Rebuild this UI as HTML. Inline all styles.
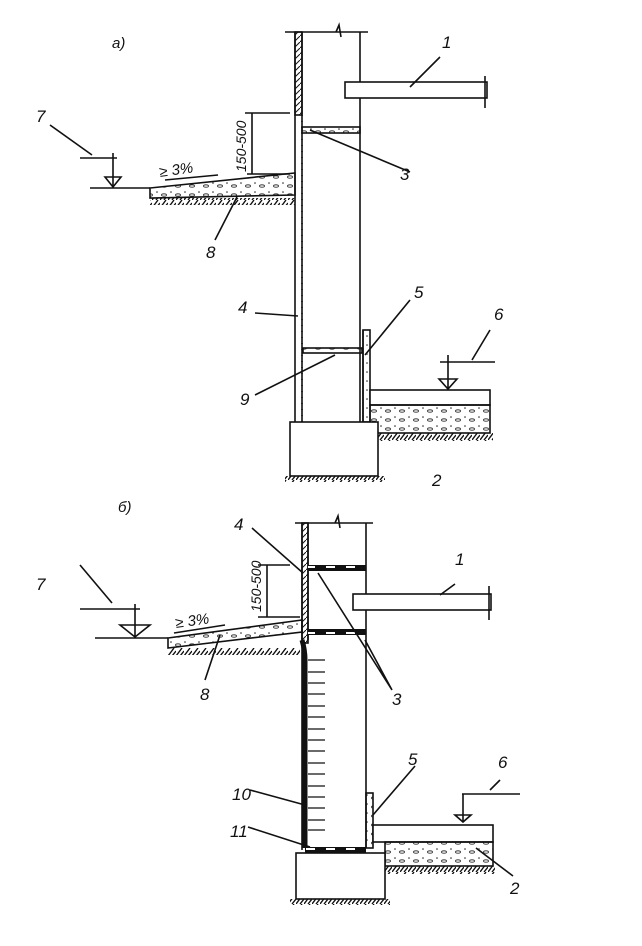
<!DOCTYPE html>
<html><head><meta charset="utf-8"><style>
html,body{margin:0;padding:0;background:#fff}
svg{display:block}
text{font-family:"Liberation Sans",sans-serif;font-style:italic;fill:#111}
</style></head><body>
<svg width="642" height="946" viewBox="0 0 642 946" xmlns="http://www.w3.org/2000/svg">
<defs>
<pattern id="gh" width="8" height="8" patternUnits="userSpaceOnUse"><path d="M0 8 L6 0 M4 8 L8 3" stroke="#111" stroke-width="1.4"/></pattern>
<pattern id="hh" width="6" height="6" patternUnits="userSpaceOnUse"><path d="M0 6 L6 0" stroke="#111" stroke-width="1"/></pattern>
<pattern id="dots" width="14" height="9" patternUnits="userSpaceOnUse"><circle cx="3" cy="3" r="0.8" fill="#222"/><ellipse cx="10" cy="6" rx="2.5" ry="1.2" fill="none" stroke="#222" stroke-width="0.8"/></pattern>
<pattern id="dash" width="20" height="6" patternUnits="userSpaceOnUse"><rect width="20" height="6" fill="#111"/><rect x="6" y="2" width="9" height="2" fill="#fff"/></pattern>
</defs>
<g fill="none" stroke="#111" stroke-width="1.6">
<!-- ===== a) ===== -->
<text x="112" y="48" font-size="15" stroke="none" font-style="normal">a)</text>
<path d="M285 32 H368 M336 32 l3 -7 l2 12"/>
<rect x="295" y="32" width="7" height="83" fill="url(#hh)"/>
<path d="M295 32 V422 M302 32 V422 M360 32 V422 M363 330 V422"/>
<path d="M302 115 V422" stroke-dasharray="1 5"/>
<rect x="345" y="82" width="142" height="16" fill="#fff"/>
<path d="M485 76 V108"/>
<rect x="302" y="127" width="58" height="6" fill="url(#dots)"/>
<path d="M252 113 V174 M245 113 H290 M247 174 H290"/>
<text x="0" y="0" font-size="14" stroke="none" transform="translate(246,172) rotate(-90)">150-500</text>
<text x="160" y="177" font-size="15" stroke="none" transform="rotate(-8 160 177)">≥ 3%</text>
<path d="M165 180 L218 175"/>
<path d="M150 188 L295 173 V195 L150 198 Z" fill="url(#dots)"/>
<rect x="150" y="198" width="145" height="7" fill="url(#gh)" stroke="none"/>
<path d="M90 188 H150 M80 158 H117 M113 153 V187 M105 177 H121 L113 187 Z"/>
<path d="M50 125 L92 155 M215 240 L237 197 M410 172 L310 130 M440 57 L410 87 M255 313 L298 316 M410 300 L365 355 M255 395 L335 355 M490 330 L472 360"/>
<text x="36" y="122" font-size="17" stroke="none">7</text>
<text x="206" y="258" font-size="17" stroke="none">8</text>
<text x="400" y="180" font-size="17" stroke="none">3</text>
<text x="442" y="48" font-size="17" stroke="none">1</text>
<text x="238" y="313" font-size="17" stroke="none">4</text>
<text x="414" y="298" font-size="17" stroke="none">5</text>
<text x="240" y="405" font-size="17" stroke="none">9</text>
<text x="494" y="320" font-size="17" stroke="none">6</text>
<text x="432" y="486" font-size="17" stroke="none">2</text>
<rect x="303" y="348" width="59" height="5" fill="url(#dots)"/>
<rect x="363" y="330" width="7" height="92" fill="url(#dots)"/>
<path d="M440 362 H495 M448 355 V390 M439 379 H457 L448 389 Z"/>
<rect x="370" y="390" width="120" height="15" fill="#fff"/>
<rect x="370" y="405" width="120" height="28" fill="url(#dots)"/>
<rect x="378" y="433" width="115" height="8" fill="url(#gh)" stroke="none"/>
<rect x="290" y="422" width="88" height="54" fill="#fff"/>
<rect x="285" y="476" width="100" height="6" fill="url(#gh)" stroke="none"/>
<!-- ===== б) ===== -->
<text x="118" y="512" font-size="15" stroke="none" font-style="normal">б)</text>
<path d="M295 523 H373 M335 523 l3 -7 l2 12"/>
<rect x="302" y="523" width="6" height="120" fill="url(#hh)"/>
<path d="M302 523 V850 M308 523 V640 M366 523 V848"/>
<rect x="308" y="565" width="58" height="6" fill="url(#dash)" stroke="none"/>
<rect x="308" y="629" width="58" height="6" fill="url(#dash)" stroke="none"/>
<rect x="353" y="594" width="138" height="16" fill="#fff"/>
<path d="M489 586 V620"/>
<path d="M267 565 V617 M258 565 H290 M258 617 H300"/>
<text x="0" y="0" font-size="14" stroke="none" transform="translate(261,612) rotate(-90)">150-500</text>
<text x="176" y="628" font-size="15" stroke="none" transform="rotate(-8 176 628)">≥ 3%</text>
<path d="M174 633 L225 625"/>
<path d="M168 638 L302 620 V632 L168 648 Z" fill="url(#dots)"/>
<rect x="168" y="648" width="132" height="7" fill="url(#gh)" stroke="none"/>
<path d="M95 638 H168 M80 609 H140 M135 604 V637 M120 625 H150 L135 637 Z"/>
<path d="M302 640 Q305 650 305 660 V848" stroke-width="5"/>
<g stroke-width="1.2"><path d="M308 660 H325 M308 672 H325 M308 683 H325 M308 694 H325 M308 706 H325 M308 717 H325 M308 729 H325 M308 740 H325 M308 751 H325 M308 763 H325 M308 774 H325 M308 786 H325 M308 797 H325 M308 808 H325 M308 820 H325 M308 830 H325"/></g>
<rect x="305" y="847" width="61" height="6" fill="url(#dash)" stroke="none"/>
<rect x="366" y="793" width="7" height="55" fill="url(#dots)"/>
<path d="M80 565 L112 603 M220 635 L205 680 M252 528 L303 573 M392 690 L318 573 M392 690 L365 640 M440 595 L455 584 M250 790 L305 805 M248 827 L310 847 M415 766 L373 815 M490 790 L500 780 M476 848 L513 876"/>
<text x="36" y="590" font-size="17" stroke="none">7</text>
<text x="200" y="700" font-size="17" stroke="none">8</text>
<text x="392" y="705" font-size="17" stroke="none">3</text>
<text x="455" y="565" font-size="17" stroke="none">1</text>
<text x="234" y="530" font-size="17" stroke="none">4</text>
<text x="408" y="765" font-size="17" stroke="none">5</text>
<text x="232" y="800" font-size="17" stroke="none">10</text>
<text x="230" y="837" font-size="17" stroke="none">11</text>
<text x="498" y="768" font-size="17" stroke="none">6</text>
<text x="510" y="894" font-size="17" stroke="none">2</text>
<path d="M462 794 H520 M463 794 V822 M455 815 H471 L463 822 Z"/>
<rect x="373" y="825" width="120" height="17" fill="#fff"/>
<rect x="385" y="842" width="108" height="24" fill="url(#dots)"/>
<rect x="385" y="866" width="110" height="8" fill="url(#gh)" stroke="none"/>
<rect x="296" y="853" width="89" height="46" fill="#fff"/>
<rect x="290" y="899" width="100" height="6" fill="url(#gh)" stroke="none"/>
</g>
</svg>
</body></html>
